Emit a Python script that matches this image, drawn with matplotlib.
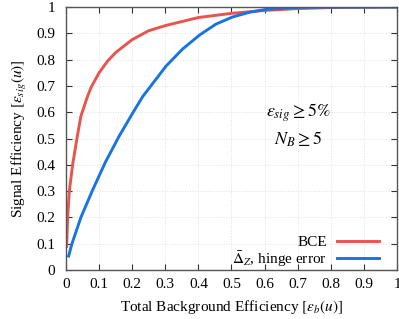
import matplotlib
matplotlib.use("Agg")
import matplotlib.pyplot as plt

plt.rcParams['font.family'] = ['Liberation Serif', 'DejaVu Serif']
plt.rcParams['mathtext.fontset'] = 'stix'

# BCE curve
bce_x = [0.002, 0.005, 0.010, 0.020, 0.033, 0.045, 0.065, 0.076, 0.100, 0.126, 0.151,
         0.200, 0.250, 0.302, 0.400, 0.500, 0.600, 0.700, 0.800, 1.0]
bce_y = [0.09, 0.20, 0.30, 0.40, 0.50, 0.585, 0.660, 0.695, 0.750, 0.795, 0.828,
         0.876, 0.910, 0.930, 0.960, 0.976, 0.987, 0.994, 0.998, 1.0]

# Delta_Z hinge error curve
hinge_x = [0.008, 0.018, 0.045, 0.079, 0.119, 0.161, 0.203, 0.232, 0.302, 0.352,
           0.403, 0.453, 0.503, 0.554, 0.604, 0.700, 1.0]
hinge_y = [0.053, 0.10, 0.20, 0.30, 0.41, 0.51, 0.600, 0.660, 0.775, 0.840,
           0.893, 0.935, 0.962, 0.980, 0.991, 0.999, 1.0]

ticks = [0, 0.1, 0.2, 0.3, 0.4, 0.5, 0.6, 0.7, 0.8, 0.9, 1]
tick_labels = ['0', '0.1', '0.2', '0.3', '0.4', '0.5', '0.6', '0.7', '0.8', '0.9', '1']

fig = plt.figure(figsize=(3.99, 3.19), dpi=100)
ax = fig.add_axes([0.1654, 0.1536, 0.8296, 0.8244])

ax.plot(bce_x, bce_y, color='#e8554e', lw=2.1, label='BCE')
ax.plot(hinge_x, hinge_y, color='#1874e6', lw=2.1, label=r'$\bar{\Delta}_Z$, hinge error')

ax.set_xlim(0, 1)
ax.set_ylim(0, 1)
ax.set_xticks(ticks)
ax.set_xticklabels(tick_labels)
ax.set_yticks(ticks)
ax.set_yticklabels(tick_labels)
ax.tick_params(direction='in', top=True, right=True, length=4, width=0.8,
               color='#333333', labelsize=11)
ax.tick_params(axis='x', pad=6)
ax.tick_params(axis='y', pad=8)
ax.grid(True, color='#e0e0e0', linestyle=':', linewidth=0.7)
for s in ax.spines.values():
    s.set_color('#555555')
    s.set_linewidth(1.0)

ax.set_xlabel(r'Total Background Efficiency $[\varepsilon_b(u)]$', fontsize=11, labelpad=5)
ax.set_ylabel(r'Signal Efficiency $[\varepsilon_{sig}(u)]$', fontsize=11, labelpad=5)

ax.text(0.70, 0.597, r'$\varepsilon_{sig} \geq 5\%$', fontsize=13, ha='center', va='center')
ax.text(0.70, 0.498, r'$N_B \geq 5$', fontsize=13, ha='center', va='center')

ax.legend(loc='lower right', bbox_to_anchor=(0.946, 0.005), frameon=False,
          markerfirst=False, fontsize=11, handlelength=2.75, handletextpad=0.65,
          labelspacing=0.0, borderpad=0, borderaxespad=0)

fig.savefig('out.png', dpi=100)
